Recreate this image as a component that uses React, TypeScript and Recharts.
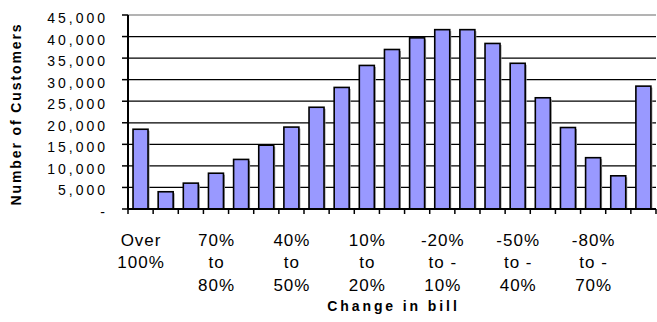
import React from "react";
import { BarChart, Bar, XAxis, YAxis, CartesianGrid, ReferenceLine } from "recharts";

const categories = [
  "Over 100%", "90% to 100%", "80% to 90%", "70% to 80%", "60% to 70%", "50% to 60%",
  "40% to 50%", "30% to 40%", "20% to 30%", "10% to 20%", "0% to 10%", "-10% to 0%",
  "-20% to -10%", "-30% to -20%", "-40% to -30%", "-50% to -40%", "-60% to -50%",
  "-70% to -60%", "-80% to -70%", "-90% to -80%", "-100% to -90%",
];

const customers = [
  18500, 4000, 6000, 8300, 11500, 14800, 19000, 23600, 28200, 33300, 37000,
  39700, 41600, 41600, 38400, 33800, 25800, 18900, 11900, 7700, 28500,
];

// only every third category gets a label, wrapped the way the original was
const tickLabels = [
  "Over|100%", "", "", "70%|to|80%", "", "", "40%|to|50%", "", "", "10%|to|20%", "", "",
  "-20%|to -|10%", "", "", "-50%|to -|40%", "", "", "-80%|to -|70%", "", "",
];

const yTicks = [0, 5000, 10000, 15000, 20000, 25000, 30000, 35000, 40000, 45000];
const gridValues = [5000, 10000, 15000, 20000, 25000, 30000, 35000, 40000];

const data = categories.map((c, i) => ({ name: c, value: customers[i] }));

const FONT = "'Liberation Sans', Arial, sans-serif";
const PLOT_W = 528;
const BAND = PLOT_W / categories.length;

const fmt = (v: number) => (v === 0 ? "-" : v.toLocaleString("en-US"));

const YTick = (props: any) => {
  const { x, y, payload } = props;
  return (
    <text x={x} y={y + 8} textAnchor="end" fontSize={14} letterSpacing={3} fontFamily={FONT} fill="#000">
      {fmt(payload.value)}
    </text>
  );
};

const XTick = (props: any) => {
  const { x, y, index } = props;
  const lines = (tickLabels[index] || "").split("|").filter(Boolean);
  const left = x - BAND / 2;
  return (
    <g>
      <line x1={left} x2={left} y1={y} y2={y + 5} stroke="#000" strokeWidth={1.5} />
      {index === categories.length - 1 && (
        <line x1={x + BAND / 2} x2={x + BAND / 2} y1={y} y2={y + 5} stroke="#000" strokeWidth={1.5} />
      )}
      {lines.map((t, i) => (
        <text key={i} x={x + 0.5} y={y + 37 + i * 22.3} textAnchor="middle" fontSize={17}
          letterSpacing={1} fontFamily={FONT} fill="#000">
          {t}
        </text>
      ))}
    </g>
  );
};

const BarShape = (props: any) => {
  const { x, y, width, height } = props;
  return (
    <g>
      <rect x={x + 1.5} y={y + 1.5} width={width} height={Math.max(height - 1.5, 0)} fill="#9a9a9a" />
      <rect x={x} y={y} width={width} height={height} fill="#9999ff" stroke="#000" strokeWidth={1.6} />
    </g>
  );
};

export default function App() {
  return (
    <div style={{ position: "absolute", left: 0, top: 0, background: "#fff" }}>
      <BarChart width={657} height={322} data={data} barCategoryGap="20%"
        margin={{ top: 15, right: 1, left: 0, bottom: 0 }}>
        <CartesianGrid vertical={false} horizontalValues={gridValues} stroke="#000" strokeWidth={1.3} />
        <XAxis dataKey="name" interval={0} height={113} tickSize={0} tickMargin={0} tickLine={false}
          tick={<XTick />} axisLine={{ stroke: "#000", strokeWidth: 2 }}
          label={{
            content: (p: any) => {
              const vb = p.viewBox;
              return (
                <text x={vb.x + vb.width / 2 + 1.5} y={311} textAnchor="middle" fontSize={14}
                  fontWeight="bold" letterSpacing={2.9} fontFamily={FONT} fill="#000">
                  Change in bill
                </text>
              );
            },
          }} />
        <YAxis width={128} domain={[0, 45000]} ticks={yTicks} interval={0} tickSize={6} tickMargin={14}
          tick={<YTick />} tickLine={{ stroke: "#000", strokeWidth: 1.5 }}
          axisLine={{ stroke: "#000", strokeWidth: 2 }}
          label={{
            content: (p: any) => {
              const vb = p.viewBox;
              const cy = vb.y + vb.height / 2 + 2;
              return (
                <text x={21} y={cy} transform={`rotate(-90 21 ${cy})`} textAnchor="middle" fontSize={14}
                  fontWeight="bold" letterSpacing={1.9} fontFamily={FONT} fill="#000">
                  Number of Customers
                </text>
              );
            },
          }} />
        <YAxis yAxisId="r" orientation="right" width={0} domain={[0, 45000]} tick={false} tickLine={false}
          axisLine={{ stroke: "#9a9a9a", strokeWidth: 1.5 }} />
        <ReferenceLine y={45000} stroke="#9a9a9a" strokeWidth={1.5} />
        <Bar dataKey="value" shape={<BarShape />} isAnimationActive={false} />
      </BarChart>
    </div>
  );
}
